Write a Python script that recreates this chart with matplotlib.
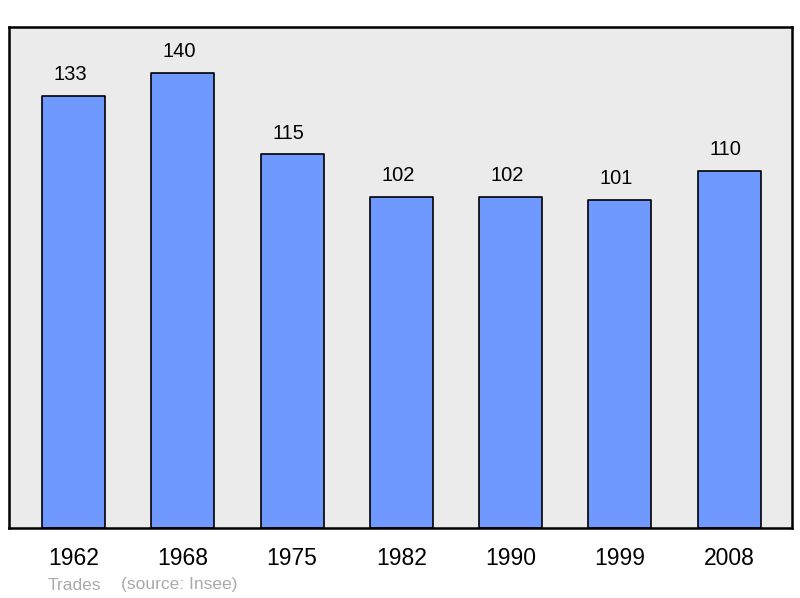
import matplotlib.pyplot as plt

years = ['1962', '1968', '1975', '1982', '1990', '1999', '2008']
population = [133, 140, 115, 102, 102, 101, 110]

plt.rcParams['font.family'] = ['Liberation Sans', 'DejaVu Sans']

fig = plt.figure(figsize=(8, 5.98), dpi=100)
ax = fig.add_axes([9/800, 70/598, 783/800, 501/598])
ax.set_facecolor('#ebebeb')

x = list(range(len(years)))
bars = ax.bar(x, population, width=0.576, color='#7099ff',
              edgecolor='black', linewidth=1.2)
for b in bars:
    b.set_joinstyle('round')
for xi, v in zip(x, population):
    ax.text(xi - 0.03, v + 3.6, str(v), ha='center', va='bottom', fontsize=14.5)

ax.set_xlim(-0.59, 6.575)
ax.set_ylim(0, 154.2)
ax.set_xticks(x)
ax.set_xticklabels(years, fontsize=16.5)
ax.tick_params(length=0, pad=14)
ax.set_yticks([])
for s in ax.spines.values():
    s.set_linewidth(1.8)

fig.text(48/800, 1 - 585/598, 'Trades', color='#aaaaaa', fontsize=12.5, va='center')
fig.text(121/800, 1 - 585/598, '(source: Insee)', color='#aaaaaa', fontsize=12.5, va='center')

fig.savefig('out.png', dpi=100)
